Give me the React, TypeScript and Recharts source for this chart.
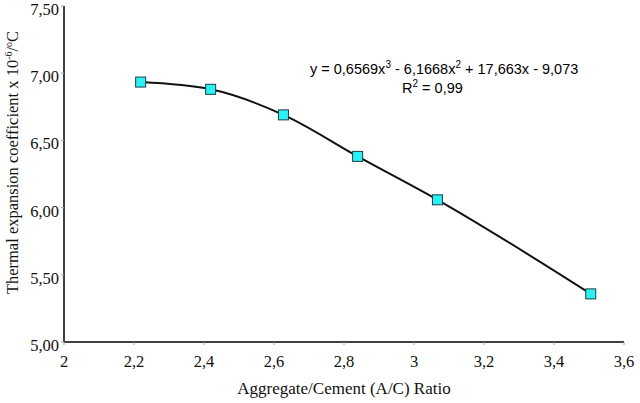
import React from 'react';
import { LineChart, Line, XAxis, YAxis, Label, Customized } from 'recharts';

const ratioValues = [2.219, 2.419, 2.627, 2.839, 3.067, 3.505];
const expansionValues = [6.934, 6.88, 6.69, 6.381, 6.058, 5.358];
const xTicks = [2, 2.2, 2.4, 2.6, 2.8, 3, 3.2, 3.4, 3.6];
const yTicks = [5, 5.5, 6, 6.5, 7, 7.5];

const data = ratioValues.map((x, i) => ({ x, y: expansionValues[i] }));

const serif = '"Liberation Serif", "Times New Roman", serif';
const sans = '"Liberation Sans", Arial, sans-serif';

const fmtX = (v: number) => String(Math.round(v * 10) / 10).replace('.', ',');
const fmtY = (v: number) => v.toFixed(2).replace('.', ',');

const XTick = (props: any) => {
  const { x, y, payload } = props;
  return (
    <text x={x} y={y + 20} textAnchor="middle" fontFamily={serif} fontSize={16.5} fill="#111">
      {fmtX(payload.value)}
    </text>
  );
};

const YTick = (props: any) => {
  const { x, y, payload } = props;
  return (
    <text x={x} y={y + 9} textAnchor="end" fontFamily={serif} fontSize={16.5} fill="#111">
      {fmtY(payload.value)}
    </text>
  );
};

const SquareDot = (props: any) => {
  const { cx, cy, index } = props;
  if (cx == null || cy == null) return null;
  return (
    <rect
      key={`dot-${index}`}
      x={cx - 5}
      y={cy - 5}
      width={10}
      height={10}
      fill="#2af2f2"
      stroke="#1c4048"
      strokeWidth={1}
    />
  );
};

const Equation = () => (
  <g fontFamily={sans} fontSize={14.5} fill="#000">
    <text x={310} y={74}>
      <tspan>y = 0,6569x</tspan>
      <tspan fontSize={10} dy={-6}>3</tspan>
      <tspan dy={6}> - 6,1668x</tspan>
      <tspan fontSize={10} dy={-6}>2</tspan>
      <tspan dy={6}> + 17,663x - 9,073</tspan>
    </text>
    <text x={402} y={92.5}>
      <tspan>R</tspan>
      <tspan fontSize={10} dy={-6}>2</tspan>
      <tspan dy={6}> = 0,99</tspan>
    </text>
  </g>
);

const YLabel = () => (
  <text
    transform="translate(17.5,162.5) rotate(-90)"
    textAnchor="middle"
    fontFamily={serif}
    fontSize={16.5}
    fill="#111"
  >
    <tspan>Thermal expansion coefficient x 10</tspan>
    <tspan fontSize={10} dy={-6}>-6</tspan>
    <tspan dy={6}>/</tspan>
    <tspan fontSize={10} dy={-6}>o</tspan>
    <tspan dy={6}>C</tspan>
  </text>
);

export default function App() {
  return (
    <div style={{ position: 'absolute', left: 0, top: 0, width: 640, height: 403, background: '#fff' }}>
      <LineChart width={640} height={403} data={data} margin={{ top: 6, right: 16, bottom: 0, left: 0 }}>
        <XAxis
          type="number"
          dataKey="x"
          domain={[2, 3.6]}
          ticks={xTicks}
          interval={0}
          height={61}
          axisLine={{ stroke: '#404040', strokeWidth: 2 }}
          tickLine={{ stroke: '#a0a0a0' }}
          tickSize={3}
          tickMargin={2}
          tick={<XTick />}
        >
          <Label
            content={() => (
              <text x={344} y={393.5} textAnchor="middle" fontFamily={serif} fontSize={17} fill="#111">
                Aggregate/Cement (A/C) Ratio
              </text>
            )}
          />
        </XAxis>
        <YAxis
          type="number"
          domain={[5, 7.5]}
          ticks={yTicks}
          interval={0}
          width={64}
          axisLine={{ stroke: '#404040', strokeWidth: 2 }}
          tickLine={{ stroke: '#a0a0a0' }}
          tickSize={3}
          tickMargin={2}
          tick={<YTick />}
        >
          <Label content={() => <YLabel />} />
        </YAxis>
        <Line
          type="monotone"
          dataKey="y"
          stroke="#111"
          strokeWidth={2}
          dot={<SquareDot />}
          activeDot={false}
          isAnimationActive={false}
        />
        <Customized component={<Equation />} />
      </LineChart>
    </div>
  );
}
